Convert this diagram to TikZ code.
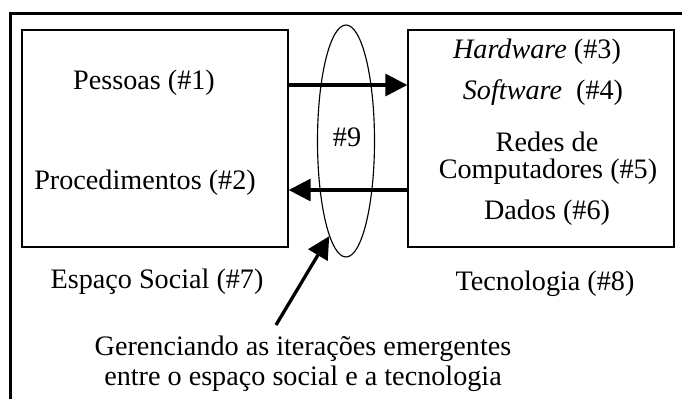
\documentclass[tikz,border=0pt]{standalone}
\usepackage{fontspec}
\setmainfont{Liberation Serif}
\usetikzlibrary{shapes.geometric, arrows.meta}

\tikzset{
  box/.style={draw, line width=0.6pt, inner sep=0pt,
    minimum width=266*0.44pt, minimum height=217*0.44pt},
  ring/.style={draw, ellipse, line width=0.5pt, inner sep=0pt,
    minimum width=57*0.44pt, minimum height=232*0.44pt},
  flow/.style={line width=1.45pt, -{Triangle[length=9.7pt, width=9.7pt]}},
  frame/.style={line width=1.3pt}
}

\begin{document}
\begin{tikzpicture}[x=0.44pt, y=-0.44pt, font=\fontsize{12.4}{13}\selectfont]
\useasboundingbox (0,0) rectangle (682,399);
\draw[frame] (10.5,399) -- (10.5,13.5) -- (682,13.5);

\node[box] (social) at (155,138.5) {};
\node[box] (tech) at (541,138.5) {};
\node[ring] (ring) at (346,141) {};
\node (n9) at (347,137) {\#9};

% espaco social
\node (pessoas) at (144,83) {Pessoas (\#1)};
\node (proc) at (145,183) {Procedimentos (\#2)};
\node (esp) at (157,282) {Espaço Social (\#7)};

% tecnologia
\node (hw) at (537,52) {\textit{Hardware} (\#3)};
\node (sw) at (543,93) {\textit{Software}\hspace{0.5em}(\#4)};
\node (redes) at (547,142) {Redes de};
\node (comp) at (548,172) {Computadores (\#5)};
\node (dados) at (547,213) {Dados (\#6)};
\node (tec) at (545,284) {Tecnologia (\#8)};

\node[align=center] (ger) at (303,364)
  {Gerenciando as iterações emergentes\\entre o espaço social e a tecnologia};

\coordinate (up) at (0,85);
\coordinate (dn) at (0,190);
\coordinate (tail) at (276,325);
\draw[flow] (social.east |- up) -- (tech.west |- up);
\draw[flow] (tech.west |- dn) -- (social.east |- dn);
\draw[flow] (tail) -- (ring.260);
\end{tikzpicture}
\end{document}
